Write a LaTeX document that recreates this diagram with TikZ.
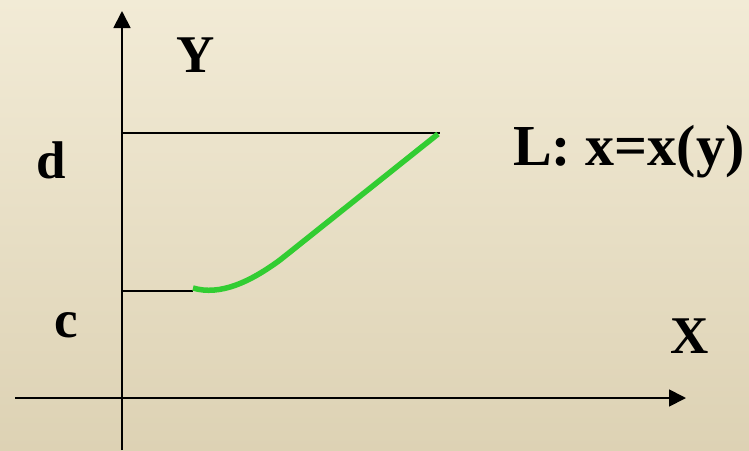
\documentclass[tikz,border=0pt]{standalone}
\usepackage{fontspec}
\setmainfont{Liberation Serif}
\usetikzlibrary{arrows.meta}
\definecolor{bgtop}{RGB}{242,235,214}
\definecolor{bgbot}{RGB}{221,210,180}
\definecolor{curvegreen}{RGB}{50,205,50}
\begin{document}
\begin{tikzpicture}[x=1pt,y=-1pt,
  axis/.style={line width=1.8pt,-{Triangle[width=17pt,length=17pt]}},
  lbl/.style={font=\fontsize{53}{60}\selectfont\bfseries,inner sep=0pt},
  curve/.style={curvegreen,line width=5.5pt}]
\shade[top color=bgtop,bottom color=bgbot] (0,0) rectangle (749,450);
\useasboundingbox (0,0) rectangle (749,450);
% axes
\coordinate (ybot) at (122,450);
\coordinate (ytop) at (122,11);
\coordinate (xleft) at (15,398);
\coordinate (xright) at (686,398);
\draw[axis] (ybot) -- (ytop);
\draw[axis] (xleft) -- (xright);
% levels
\coordinate (d0) at (122,133);
\coordinate (d1) at (440,133);
\coordinate (c0) at (122,291);
\coordinate (c1) at (193,291);
\draw[line width=2.8pt] (d0) -- (d1);
\draw[line width=1.7pt] (c0) -- (c1);
% curve
\coordinate (p0) at (193,288);
\coordinate (pm) at (280,260);
\coordinate (p1) at (438,134);
\draw[curve] (p0) .. controls (220,296) and (250,282) .. (pm) -- (p1);
% labels
\node[lbl,anchor=base] (Y) at (196,72) {Y};
\node[lbl,anchor=base] (d) at (51,178) {d};
\node[lbl,anchor=base] (c) at (66,337) {c};
\node[lbl,anchor=base] (X) at (690,353) {X};
\node[lbl,anchor=base west,font=\fontsize{58}{64}\selectfont\bfseries] (L) at (513,165) {L: x=x(y)};
\end{tikzpicture}
\end{document}
